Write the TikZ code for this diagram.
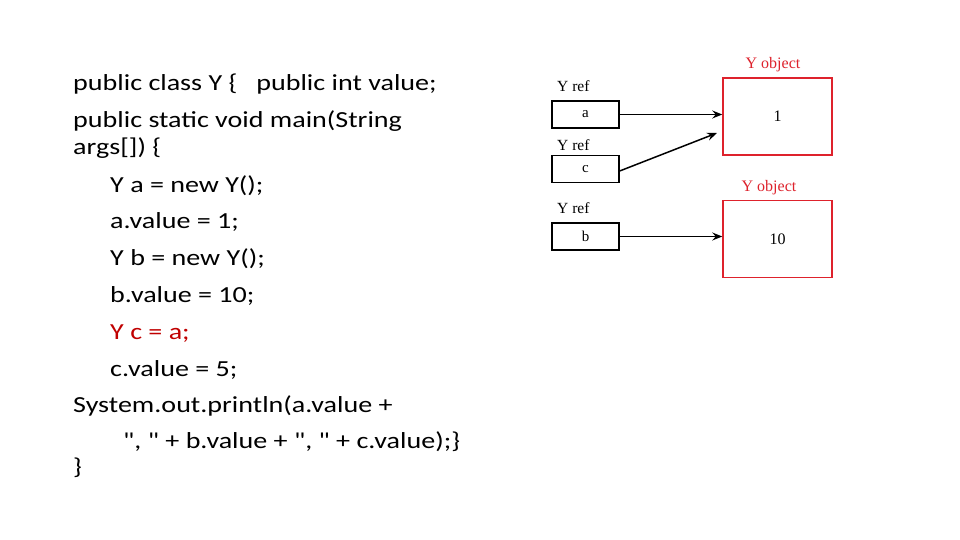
\documentclass[tikz,border=0pt]{standalone}
\usepackage{fontspec}
\setmainfont{Carlito}[Ligatures=TeXOff]
\newfontfamily\figfont{Liberation Serif}
\definecolor{objred}{RGB}{222,34,44}
\definecolor{codered}{RGB}{192,0,0}
\tikzset{
  code/.style={anchor=base west,inner sep=0pt,xscale=1.22,transform shape,font=\fontsize{23}{26}\selectfont},
  refbox/.style={draw,line width=1.3pt,minimum width=67pt,minimum height=27pt,inner sep=0pt,font=\figfont\fontsize{15}{17}\selectfont},
  objbox/.style={draw=objred,line width=1.5pt,minimum width=109pt,minimum height=77pt,inner sep=0pt,font=\figfont\fontsize{16}{18}\selectfont},
  lbl/.style={anchor=base west,inner sep=0pt,font=\figfont\fontsize{15.5}{17}\selectfont},
  objlbl/.style={anchor=base,inner sep=0pt,text=objred,font=\figfont\fontsize{16}{18}\selectfont},
  arr/.style={-{Stealth[length=10pt,width=8pt,inset=3.5pt]},line width=1.5pt}
}
\usetikzlibrary{arrows.meta}
\begin{document}
\begin{tikzpicture}[x=1pt,y=-1pt]
\useasboundingbox[fill=white] (0,0) rectangle (960,540);
% the code
\node[code] (l1) at (73,91) {public class Y \{\ \ \ public int value;};
\node[code] (l2) at (73,128) {public static void main(String};
\node[code] (l3) at (73,155) {args[]) \{};
\node[code] (l4) at (110,192) {Y a = new Y();};
\node[code] (l5) at (110,228) {a.value = 1;};
\node[code] (l6) at (110,265) {Y b = new Y();};
\node[code] (l7) at (110,302) {b.value = 10;};
\node[code,text=codered] (l8) at (110,339) {Y c = a;};
\node[code] (l9) at (110,376) {c.value = 5;};
\node[code] (l10) at (73,412) {System.out.println(a.value +};
\node[code] (l11) at (123,448) {", " + b.value + ", " + c.value);\}};
\node[code] (l12) at (73,474) {\}};
% references
\node[lbl] (ra) at (557,92) {Y ref};
\node[refbox] (a) at (585.5,114.5) {a};
\node[lbl] (rc) at (557,151) {Y ref};
\node[refbox] (c) at (585.5,169) {\raisebox{-4pt}{c}};
\node[lbl] (rb) at (557,213) {Y ref};
\node[refbox] (b) at (585.5,236.5) {b};
% objects
\node[objlbl] (oa) at (773,69) {Y object};
\node[objbox] (o1) at (777.5,116.5) {1};
\node[objlbl] (ob) at (769,191) {Y object};
\node[objbox] (o2) at (777.5,239) {10};
\coordinate (ctip) at (717,133);
\draw[arr] (a.east) -- (a.east -| o1.west);
\draw[arr] ([yshift=-2pt]c.east) -- (ctip);
\draw[arr] (b.east) -- (b.east -| o2.west);
\end{tikzpicture}
\end{document}
